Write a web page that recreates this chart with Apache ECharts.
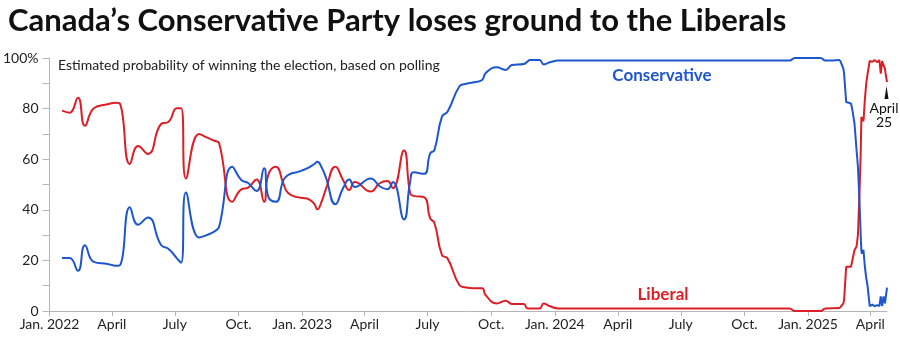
<!DOCTYPE html>
<html>
<head>
<meta charset="utf-8">
<script src="https://cdn.jsdelivr.net/npm/echarts@6/dist/echarts.min.js"></script>
<style>
  html, body { margin: 0; padding: 0; background: #fff; }
  #chart { width: 900px; height: 350px; }
</style>
</head>
<body>
<div id="chart"></div>
<script>
// polling dates
const dates = [
  '2022-01-19', '2022-01-30', '2022-02-11', '2022-02-21', '2022-03-06', '2022-03-26',
  '2022-04-07', '2022-04-13', '2022-04-27', '2022-05-09', '2022-05-23', '2022-06-11',
  '2022-06-22', '2022-07-04', '2022-07-10', '2022-07-17', '2022-08-05', '2022-08-16',
  '2022-08-28', '2022-09-03', '2022-09-22', '2022-10-05', '2022-10-15', '2022-10-27',
  '2022-11-07', '2022-11-13', '2022-11-24', '2022-12-05', '2022-12-12', '2022-12-27',
  '2023-01-08', '2023-01-18', '2023-01-23', '2023-01-29', '2023-02-04', '2023-02-18',
  '2023-03-01', '2023-03-10', '2023-03-18', '2023-04-10', '2023-04-23', '2023-05-04',
  '2023-05-12', '2023-05-28', '2023-06-06', '2023-06-11', '2023-06-26', '2023-07-05',
  '2023-07-11', '2023-07-22', '2023-07-30', '2023-08-16', '2023-08-24', '2023-09-06',
  '2023-09-18', '2023-09-23', '2023-10-09', '2023-10-22', '2023-10-31', '2023-11-17',
  '2023-11-22', '2023-11-26', '2023-12-10', '2023-12-16', '2023-12-24', '2024-01-07',
  '2024-12-05', '2024-12-13', '2025-01-19', '2025-01-26',
  // last weeks, drawn without smoothing
  '2025-02-16', '2025-02-21', '2025-02-22', '2025-02-25', '2025-03-04', '2025-03-06',
  '2025-03-09', '2025-03-12', '2025-03-14', '2025-03-16', '2025-03-18', '2025-03-19',
  '2025-03-20', '2025-03-22', '2025-03-24', '2025-03-26', '2025-03-28', '2025-03-31',
  '2025-04-04', '2025-04-07', '2025-04-11', '2025-04-14', '2025-04-16', '2025-04-18',
  '2025-04-20', '2025-04-22', '2025-04-23', '2025-04-25'
];

const liberal = [
  79.2, 78.4, 84.3, 73.2, 80.1, 81.7,
  82.3, 81.8, 58.1, 65.2, 62.1, 73.9,
  74.8, 80.1, 80.1, 52.4, 70, 68.6,
  67.2, 66.3, 43.2, 48.1, 48.8, 52,
  43.2, 53.8, 57, 50.2, 46.5, 44.9,
  44.5, 42.5, 40.2, 43.2, 48, 57,
  51.8, 47.8, 51, 47.2, 50.5, 51.4,
  48.5, 63.4, 46.5, 45.5, 45, 36.6,
  34.9, 22.1, 20.8, 10.3, 9.4, 9,
  9, 6.3, 3, 4.1, 2.8, 2.8,
  1.1, 1, 1, 3, 2, 1,
  1, 0, 0, 1,
  1.2, 3, 4.4, 17.5, 17.5, 18,
  24, 25.5, 30, 45, 62, 76.7,
  77, 75, 83.5, 90, 93.8, 98.8,
  98.5, 99.2, 98.3, 99.2, 93.8, 98.8,
  97, 96, 93.8, 90.5
];

const conservative = [
  20.9, 20.9, 15.9, 26, 19.4, 18.6,
  17.9, 18.2, 41, 34.1, 37, 26.1,
  24.5, 20.8, 19.1, 46.8, 29.1, 30,
  31.6, 33.3, 57, 51.8, 50.6, 47.4,
  56.4, 45.2, 43.2, 51.8, 53.8, 55.1,
  56.4, 58, 59, 56.8, 53, 42.2,
  48.5, 52, 49, 52.4, 49.3, 48.1,
  51, 36.2, 51.1, 54.8, 54.2, 62.3,
  63.6, 76.8, 78.8, 88.7, 89.7, 90.4,
  91.3, 94, 96.3, 95.3, 97.2, 97.6,
  98.5, 99.2, 99.2, 97.5, 98.2, 99,
  99, 100, 100, 99,
  99.2, 95.8, 93.8, 82.6, 82, 79.4,
  74.2, 63.7, 57, 45, 30, 23.5,
  22.7, 24.2, 17.5, 13, 9.7, 1.9,
  2.5, 1.9, 2.3, 1.9, 5.8, 1.9,
  5.8, 3, 5, 9.2
];

const startDate = '2022-01-01';
const endDate = '2025-04-25';

function ts(s) {
  const p = s.split('-').map(Number);
  return Date.UTC(p[0], p[1] - 1, p[2]);
}

// x axis ticks: every quarter
const quarterTicks = [];
for (let y = 2022; y <= 2025; y++) {
  for (let m = 0; m < 12; m += 3) {
    const t = Date.UTC(y, m, 1);
    if (t <= ts(endDate)) quarterTicks.push(t);
  }
}
const monthNames = { 0: 'Jan.', 3: 'April', 6: 'July', 9: 'Oct.' };

const red = '#dc1f26';
const blue = '#1d56cf';
const font = 'Lato, "Open Sans", sans-serif';

// index where the line stops being smooth
const splitIdx = dates.indexOf('2025-02-16');

function pairs(vals, from, to) {
  return dates.slice(from, to).map((d, i) => [ts(d), vals[from + i]]);
}

function lineSeries(name, vals, color, smooth, from, to) {
  return {
    name: name,
    type: 'line',
    smooth: smooth,
    showSymbol: false,
    silent: true,
    lineStyle: { color: color, width: 2 },
    data: pairs(vals, from, to),
  };
}

const chart = echarts.init(document.getElementById('chart'));

const option = {
  animation: false,
  backgroundColor: '#fff',
  title: [
    {
      text: 'Canada\u2019s Conservative Party loses ground to the Liberals',
      left: 3,
      top: 0,
      textStyle: { fontFamily: font, fontWeight: 'bold', fontSize: 31, color: '#111' },
    },
    {
      text: 'Estimated probability of winning the election, based on polling',
      left: 53,
      top: 53,
      textStyle: { fontFamily: font, fontWeight: 'normal', fontSize: 14, color: '#222' },
    },
  ],
  grid: { left: 44, right: 13, top: 58, bottom: 39 },
  xAxis: {
    type: 'value',
    min: ts(startDate),
    max: ts(endDate),
    axisLine: { lineStyle: { color: '#b5b5b5', width: 1 } },
    axisTick: { show: true, length: 5, lineStyle: { color: '#b5b5b5' }, customValues: quarterTicks },
    splitLine: { show: false },
    axisLabel: {
      customValues: quarterTicks,
      fontFamily: font,
      fontSize: 14,
      color: '#222',
      margin: 6,
      formatter: (val) => {
        const d = new Date(val);
        const m = d.getUTCMonth();
        return m === 0 ? 'Jan. ' + d.getUTCFullYear() : monthNames[m];
      },
    },
  },
  yAxis: {
    type: 'value',
    min: 0,
    max: 100,
    interval: 10,
    axisLine: { show: true, lineStyle: { color: '#b5b5b5', width: 1 } },
    axisTick: { show: true, length: 7, lineStyle: { color: '#b5b5b5' } },
    splitLine: { show: false },
    axisLabel: {
      fontFamily: font,
      fontSize: 14,
      color: '#222',
      margin: 11,
      formatter: (v) => (v % 20 ? '' : v === 100 ? '100%' : String(v)),
    },
  },
  series: [
    lineSeries('Liberal', liberal, red, true, 0, splitIdx + 1),
    lineSeries('Liberal', liberal, red, false, splitIdx, dates.length),
    lineSeries('Conservative', conservative, blue, true, 0, splitIdx + 1),
    lineSeries('Conservative', conservative, blue, false, splitIdx, dates.length),
  ],
  graphic: [
    {
      type: 'text',
      x: 662,
      y: 76,
      style: { text: 'Conservative', font: 'bold 17px ' + font, fill: blue, textAlign: 'center', textVerticalAlign: 'middle' },
    },
    {
      type: 'text',
      x: 663,
      y: 295,
      style: { text: 'Liberal', font: 'bold 17px ' + font, fill: red, textAlign: 'center', textVerticalAlign: 'middle' },
    },
    {
      type: 'polygon',
      shape: { points: [[886.5, 86], [884.5, 99], [888.5, 99]] },
      style: { fill: '#111' },
    },
    {
      type: 'text',
      x: 884,
      y: 115,
      style: { text: 'April\n25', font: '14px ' + font, fill: '#111', textAlign: 'center', textVerticalAlign: 'middle', lineHeight: 14 },
    },
  ],
};

chart.setOption(option);
</script>
</body>
</html>
